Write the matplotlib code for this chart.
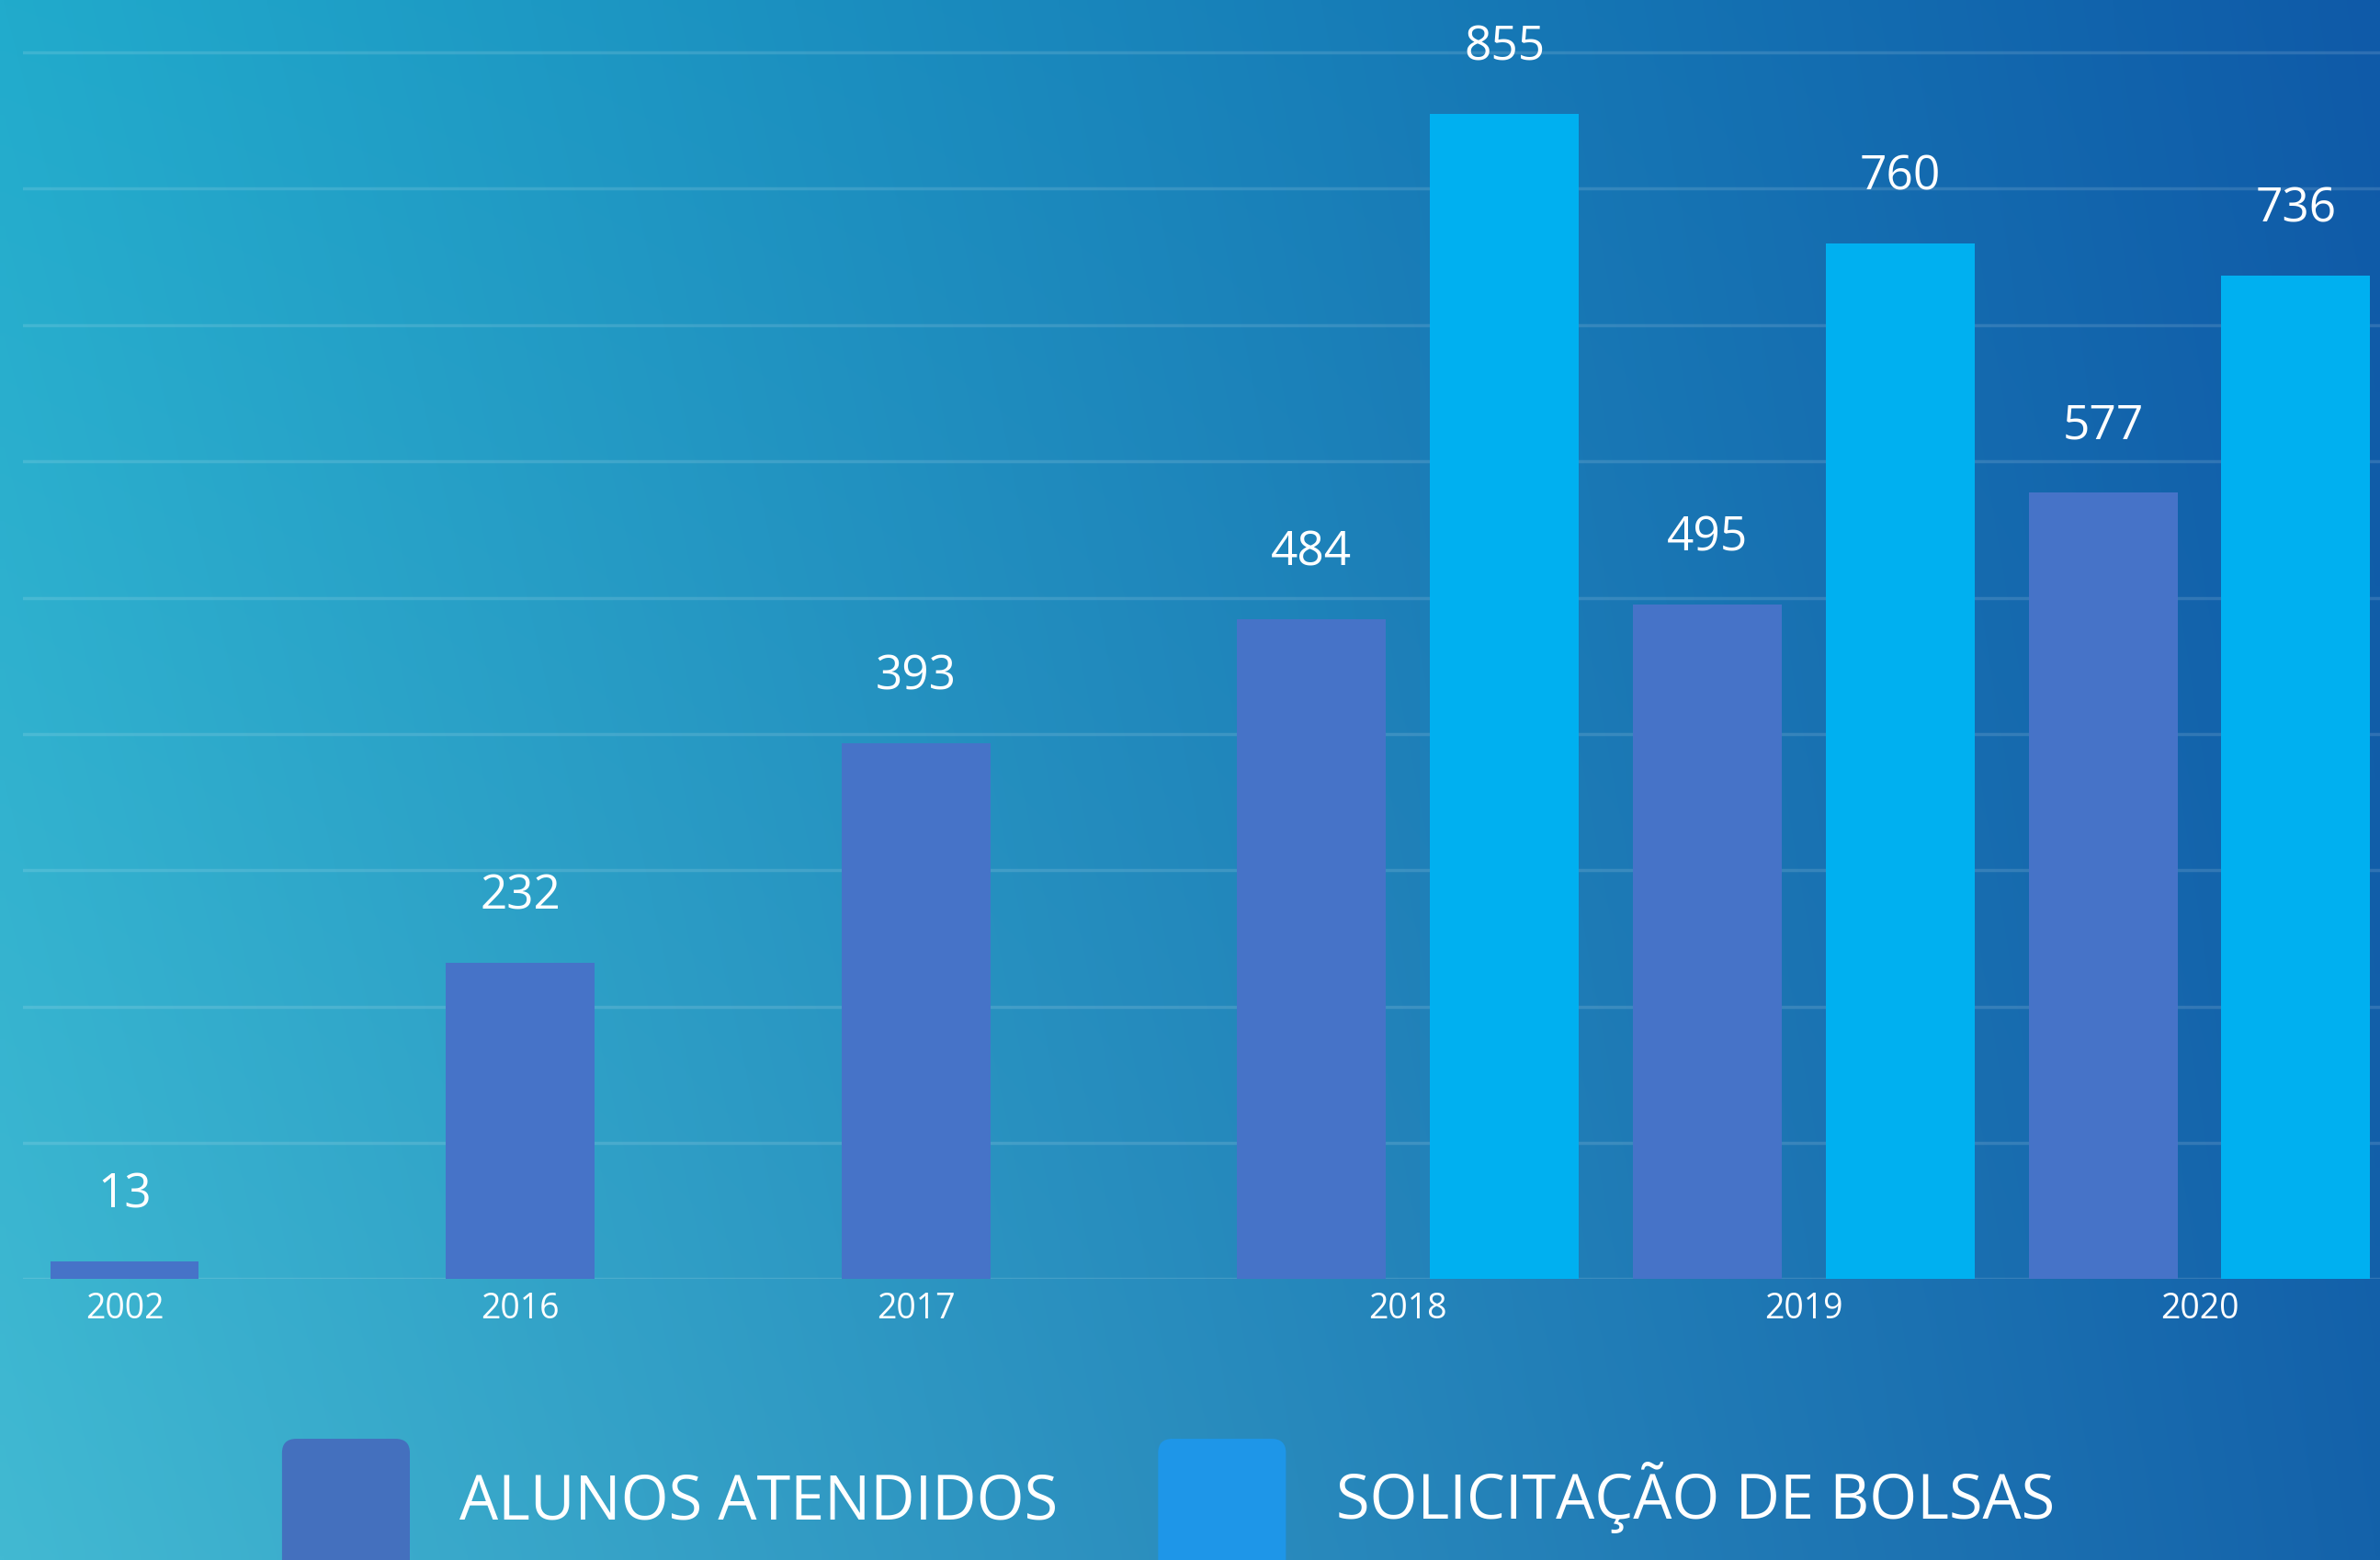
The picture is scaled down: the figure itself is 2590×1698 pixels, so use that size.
import numpy as np
import matplotlib.pyplot as plt
from matplotlib.patches import FancyBboxPatch
from matplotlib.colors import to_rgb

plt.rcParams['font.family'] = ['Open Sans', 'DejaVu Sans']

# data
years = ['2002', '2016', '2017', '2018', '2019', '2020']
alunos = [13, 232, 393, 484, 495, 577]
bolsas = [None, None, None, 855, 760, 736]
series_names = ['ALUNOS ATENDIDOS', 'SOLICITAÇÃO DE BOLSAS']

c_alunos = '#4673C8'
c_bolsas = '#00B0F0'

fig = plt.figure(figsize=(25.9, 16.98), dpi=100)

# gradient background
bg = fig.add_axes([0, 0, 1, 1], zorder=0)
tl, tr = np.array(to_rgb('#21ABCC')), np.array(to_rgb('#0F5AA8'))
bl, br = np.array(to_rgb('#42B9D2')), np.array(to_rgb('#1462AA'))
gx = np.linspace(0, 1, 300)[None, :, None]
gy = np.linspace(0, 1, 200)[:, None, None]  # 0 = top
top = tl * (1 - gx) + tr * gx
bot = bl * (1 - gx) + br * gx
img = top * (1 - gy) + bot * gy
bg.imshow(img, aspect='auto', extent=[0, 1, 0, 1], interpolation='bilinear')
bg.set_xlim(0, 1)
bg.set_ylim(0, 1)
bg.axis('off')

ax = fig.add_axes([0.0096, 0.18, 0.9904, 0.82], zorder=1)
ax.patch.set_alpha(0)

w = 0.376
off = 0.487
ticks = []
for i, (a, b) in enumerate(zip(alunos, bolsas)):
    ax.bar(i, a, width=w, color=c_alunos, zorder=3)
    ax.annotate(str(a), (i, a), xytext=(0, 52), textcoords='offset points',
                ha='center', va='center', color='white', fontsize=37)
    if b is not None:
        ax.bar(i + off, b, width=w, color=c_bolsas, zorder=3)
        ax.annotate(str(b), (i + off, b), xytext=(0, 52), textcoords='offset points',
                    ha='center', va='center', color='white', fontsize=37)
        ticks.append(i + off / 2)
    else:
        ticks.append(i)

ax.set_xlim(-0.257, 5.70)
ax.set_ylim(0, 938.5)
ax.set_yticks(np.arange(0, 901, 100))
ax.yaxis.grid(True, color='white', alpha=0.13, linewidth=2.5, zorder=0)
ax.set_axisbelow(True)
ax.set_xticks(ticks)
ax.set_xticklabels(years, color='white', fontsize=27)
ax.tick_params(axis='x', length=0, pad=10)
ax.tick_params(axis='y', length=0, labelleft=False)
for s in ax.spines.values():
    s.set_visible(False)

# legend
for px, tx, col, name in [(0.1185, 0.193, '#4470BE', series_names[0]),
                          (0.4866, 0.5613, '#1E96E8', series_names[1])]:
    fig.patches.append(FancyBboxPatch((px, -0.1), 0.0537, 0.1777,
                                      boxstyle='round,pad=0,rounding_size=0.006',
                                      transform=fig.transFigure, facecolor=col,
                                      edgecolor='none', zorder=2, mutation_aspect=1.5))
    fig.text(tx, 0.0265, name, color='white', fontsize=48, va='baseline', ha='left', zorder=3)

fig.savefig('out.png', dpi=100)
